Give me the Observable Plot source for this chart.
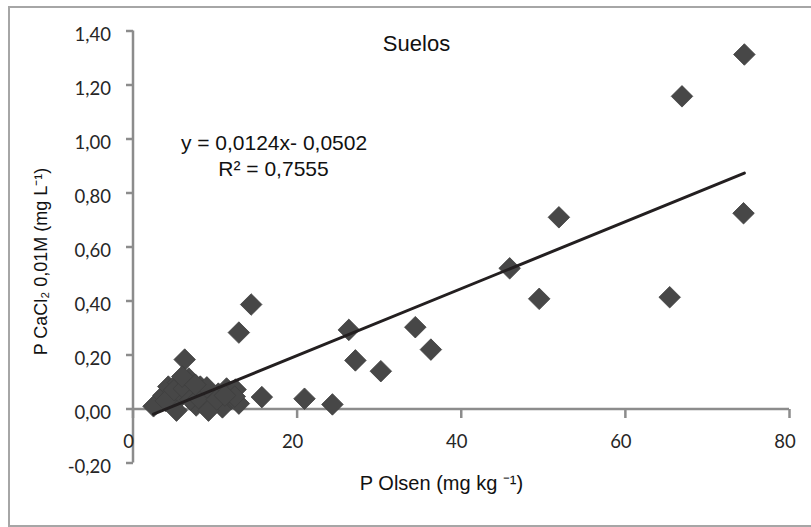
<!DOCTYPE html>
<html><head><meta charset="utf-8">
<script src="https://cdn.jsdelivr.net/npm/d3@7"></script>
<script src="https://cdn.jsdelivr.net/npm/@observablehq/plot@0.6"></script>
<style>
html,body{margin:0;padding:0;background:#fff;overflow:hidden;}
#wrap{position:relative;width:811px;height:527px;overflow:hidden;}
#border{position:absolute;left:8px;top:5.5px;width:830px;height:517px;border:2px solid #a6a6a6;}
#chart{position:absolute;left:0;top:0;}
</style></head><body>
<div id="wrap"><div id="border"></div><div id="chart"></div></div>
<script>
// P Olsen (mg kg-1)
const pOlsen = [2.5, 3.7, 4.3, 4.8, 5.5, 5.8, 6.3, 6.8, 7.3, 7.7, 8.2, 8.8, 9.6, 9.9, 10.4, 10.9, 11.4, 12.0, 12.5, 12.9, 12.4, 5.3, 9.2,
  4.0, 5.0, 6.2, 7.0, 8.0, 9.0, 10.2, 11.2, 6.0, 7.6,
  14.4, 12.9, 26.3, 34.4, 36.3, 27.1, 30.2, 15.7, 20.9, 24.3, 45.9, 49.5, 51.9, 65.4, 66.9, 74.4, 74.5];
// P CaCl2 0,01M (mg L-1)
const pCaCl2 = [0.010, 0.050, 0.083, 0.017, 0.098, 0.046, 0.183, 0.113, 0.061, 0.013, 0.083, 0.050, 0.054, 0.024, 0.057, 0.006, 0.076, 0.039, 0.072, 0.020, 0.046, -0.006, -0.006,
  0.030, 0.070, 0.075, 0.035, 0.040, 0.080, 0.035, 0.050, 0.120, 0.090,
  0.387, 0.283, 0.293, 0.303, 0.220, 0.180, 0.140, 0.044, 0.038, 0.017, 0.521, 0.408, 0.710, 0.414, 1.158, 0.725, 1.313];
const xTicks = [0, 20, 40, 60, 80];
const yTicks = [-0.2, 0, 0.2, 0.4, 0.6, 0.8, 1.0, 1.2, 1.4];
const slope = 0.0124, intercept = -0.0502, rSquared = 0.7555;
const chartTitle = "Suelos";
const xTitle = "P Olsen (mg kg \u207B\u00B9)";
const yTitle = "P CaCl\u2082 0,01M (mg L\u207B\u00B9)";

const comma = v => v.toFixed(4).replace(".", ",");
const eqLine1 = `y = ${comma(slope)}x- ${comma(Math.abs(intercept))}`;
const eqLine2 = `R\u00B2 = ${comma(rSquared)}`;

const points = pOlsen.map((x, i) => ({x, y: pCaCl2[i]}));
const [xMin, xMax] = d3.extent(pOlsen);
const trend = [xMin, xMax].map(x => ({x, y: slope * x + intercept}));

const axisColor = "#8c8c8c";
const diamond = {draw(ctx, size) { const h = Math.sqrt(size / 2); ctx.moveTo(0, -h); ctx.lineTo(h, 0); ctx.lineTo(0, h); ctx.lineTo(-h, 0); ctx.closePath(); }};
const tickDown = {draw(ctx) { ctx.moveTo(0, 0); ctx.lineTo(0, 9); }};
const tickLeft = {draw(ctx) { ctx.moveTo(0, 0); ctx.lineTo(-7, 0); }};
const tickFont = "Lato, 'Open Sans', sans-serif";
const labelFont = "'Liberation Sans', Arial, sans-serif";
const ann = {textAnchor: "middle", lineAnchor: "middle", text: d => d, fontFamily: labelFont, fill: "#111"};

const chart = Plot.plot({
  width: 811, height: 527,
  marginLeft: 132.5, marginRight: 22, marginTop: 30.5, marginBottom: 64.5,
  x: {domain: [0, 80], axis: null},
  y: {domain: [-0.2, 1.4], axis: null},
  marks: [
    Plot.ruleX([0], {y1: -0.2, y2: 1.4, stroke: axisColor, strokeWidth: 2.5}),
    Plot.ruleY([0], {x1: 0, x2: 80, stroke: axisColor, strokeWidth: 2.5}),
    Plot.dot(xTicks, {x: d => d, y: 0, symbol: tickDown, stroke: axisColor, strokeWidth: 2.5, fill: "none"}),
    Plot.dot(yTicks, {x: 0, y: d => d, symbol: tickLeft, stroke: axisColor, strokeWidth: 2.5, fill: "none"}),
    Plot.text(xTicks, {x: d => d, y: 0, text: d => String(d), dy: 33, dx: -4.5, fontSize: 18.5, fontFamily: tickFont, fill: "#262626"}),
    Plot.text(yTicks, {x: 0, y: d => d, text: d => d.toFixed(2).replace(".", ","), textAnchor: "end", dx: -22, dy: 4, fontSize: 18.5, fontFamily: tickFont, fill: "#262626"}),
    Plot.dot(points, {x: "x", y: "y", symbol: diamond, r: 8.6, fill: "#474747", stroke: "#3f3f3f", strokeWidth: 0.8}),
    Plot.line(trend, {x: "x", y: "y", stroke: "#231f20", strokeWidth: 3}),
    Plot.text([chartTitle], {...ann, frameAnchor: "top-left", dx: 283.5, dy: 13, fontSize: 22}),
    Plot.text([eqLine1], {...ann, frameAnchor: "top-left", dx: 141, dy: 112.5, fontSize: 21}),
    Plot.text([eqLine2], {...ann, frameAnchor: "top-left", dx: 140.5, dy: 138, fontSize: 21}),
    Plot.text([yTitle], {...ann, frameAnchor: "left", dx: -91.5, dy: 14.5, rotate: -90, fontSize: 18}),
    Plot.text([xTitle], {...ann, frameAnchor: "bottom", dx: -19.75, dy: 20.5, fontSize: 20})
  ]
});
document.getElementById("chart").appendChild(chart);
</script>
</body></html>
